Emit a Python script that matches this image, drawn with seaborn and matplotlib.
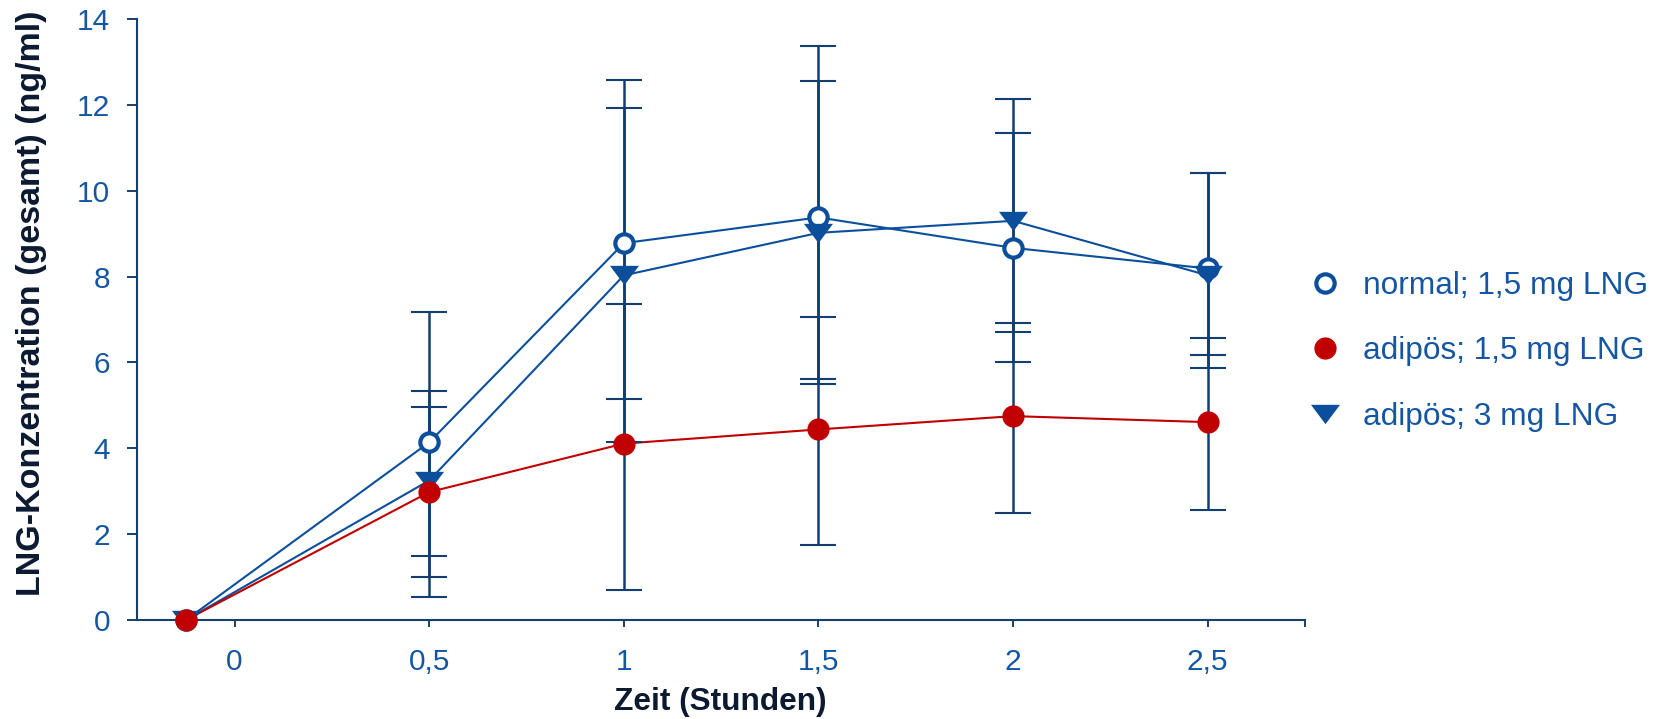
import numpy as np
import pandas as pd
import matplotlib
matplotlib.use("Agg")
import matplotlib.pyplot as plt
from matplotlib.lines import Line2D
import seaborn as sns

# ---------------- data ----------------
zeit = [-0.125, 0.5, 1.0, 1.5, 2.0, 2.5]

normal_mean = [0.0, 4.14, 8.78, 9.38, 8.67, 8.19]
normal_hi   = [np.nan, 7.18, 12.57, 13.37, 11.34, 10.42]
normal_lo   = [np.nan, 1.01, 5.16, 5.51, 6.00, 5.86]

adip15_mean = [0.0, 2.98, 4.11, 4.44, 4.75, 4.61]
adip15_hi   = [np.nan, 5.34, 7.36, 7.06, 6.91, 6.56]
adip15_lo   = [np.nan, 0.53, 0.69, 1.75, 2.50, 2.57]

adip3_mean = [0.0, 3.25, 8.03, 9.02, 9.30, 8.03]
adip3_hi   = [np.nan, 4.96, 11.92, 12.56, 12.13, 10.42]
adip3_lo   = [np.nan, 1.49, 4.14, 5.61, 6.70, 6.17]

labels = ["normal; 1,5 mg LNG", "adipös; 1,5 mg LNG", "adipös; 3 mg LNG"]
xtick_vals = [0, 0.5, 1, 1.5, 2, 2.5]
xtick_labels = ["0", "0,5", "1", "1,5", "2", "2,5"]
ytick_vals = [0, 2, 4, 6, 8, 10, 12, 14]

# ---------------- style ----------------
sns.set_theme(style="white")
plt.rcParams["font.family"] = ["Liberation Sans", "DejaVu Sans"]

BLUE = "#0B4F9C"
TXT_BLUE = "#1556A2"
RED = "#C00000"
NAVY = "#123E72"
SPINE = "#17406F"
LABEL = "#0B1A30"

tri = [(-1.5, 1.0), (1.5, 1.0), (0.0, -1.0), (-1.5, 1.0)]

fig = plt.figure(figsize=(16.66, 7.19), dpi=100)
ax = fig.add_axes([137.3 / 1666, 99 / 719, (1305 - 137.3) / 1666, 600.9 / 719])

series = [
    dict(mean=normal_mean, hi=normal_hi, lo=normal_lo, color=BLUE,
         mk=dict(marker="o", markersize=13.2, markerfacecolor="white",
                 markeredgecolor=BLUE, markeredgewidth=3.0)),
    dict(mean=adip3_mean, hi=adip3_hi, lo=adip3_lo, color=BLUE,
         mk=dict(marker=tri, markersize=20.9, markerfacecolor=BLUE,
                 markeredgecolor=BLUE, markeredgewidth=0)),
    dict(mean=adip15_mean, hi=adip15_hi, lo=adip15_lo, color=RED,
         mk=dict(marker="o", markersize=16, markerfacecolor=RED,
                 markeredgecolor=RED, markeredgewidth=0)),
]

# lines
for s in series:
    df = pd.DataFrame({"x": zeit, "y": s["mean"]})
    sns.lineplot(data=df, x="x", y="y", color=s["color"], linewidth=1.5,
                 sort=False, estimator=None, legend=False, ax=ax, zorder=2)

# error bars
for s in series:
    m = np.array(s["mean"], float)
    hi = np.array(s["hi"], float)
    lo = np.array(s["lo"], float)
    ok = ~np.isnan(hi)
    xs = np.array(zeit)[ok]
    ax.errorbar(xs, m[ok], yerr=[m[ok] - lo[ok], hi[ok] - m[ok]], fmt="none",
                ecolor=NAVY, elinewidth=1.8, capsize=13.3, capthick=1.5,
                zorder=3)

# markers
for i, s in enumerate(series):
    df = pd.DataFrame({"x": zeit, "y": s["mean"]})
    sns.lineplot(data=df, x="x", y="y", color=s["color"], linestyle="none",
                 sort=False, estimator=None, legend=False, ax=ax,
                 zorder=4 + i, clip_on=False, **s["mk"])

# axes
ax.set_xlim(-0.25, 2.75)
ax.set_ylim(0, 14)
ax.set_xticks(xtick_vals)
ax.set_xticklabels(xtick_labels)
ax.set_xticks([2.75], minor=True)
ax.set_yticks(ytick_vals)
ax.set_yticklabels([str(v) for v in ytick_vals])
sns.despine(ax=ax, top=True, right=True)
for sp in ["left", "bottom"]:
    ax.spines[sp].set_color(SPINE)
    ax.spines[sp].set_linewidth(1.5)
ax.tick_params(axis="y", which="major", direction="out", length=6.9, width=1.4,
               color=SPINE, labelcolor=TXT_BLUE, labelsize=21.5, pad=12.5, left=True)
ax.tick_params(axis="x", which="both", direction="out", length=4.8, width=1.4,
               color=SPINE, labelcolor=TXT_BLUE, labelsize=21.5, pad=15, bottom=True)

ax.set_xlabel("Zeit (Stunden)", fontsize=22.8, fontweight="bold", color=LABEL)
ax.set_ylabel("LNG-Konzentration (gesamt) (ng/ml)", fontsize=24.5,
              fontweight="bold", color=LABEL)
ax.xaxis.label.set_va("center")
ax.yaxis.label.set_va("center")
ax.xaxis.set_label_coords((720 - 137.3) / 1167.7, (620 - 702) / 600.9)
ax.yaxis.set_label_coords((32 - 137.3) / 1167.7, (620 - 303) / 600.9)

# legend
handles = [
    Line2D([], [], linestyle="none", **series[0]["mk"]),
    Line2D([], [], linestyle="none", **series[2]["mk"]),
    Line2D([], [], linestyle="none", **series[1]["mk"]),
]
leg = fig.legend(handles, labels, loc="center left",
                 bbox_to_anchor=(1309.4 / 1666, (719 - 351.5) / 719),
                 frameon=False, fontsize=22.8, borderpad=0, borderaxespad=0,
                 handlelength=1.0, handletextpad=0.7, labelspacing=1.13)
for t in leg.get_texts():
    t.set_color(TXT_BLUE)

fig.savefig("out.png", dpi=100)
